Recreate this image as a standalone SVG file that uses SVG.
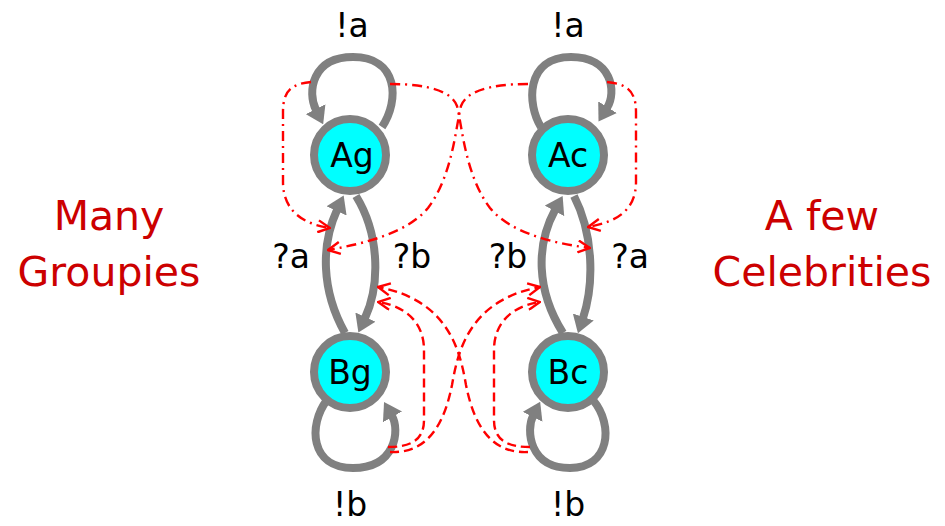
<svg xmlns="http://www.w3.org/2000/svg" width="945" height="526" viewBox="0 0 945 526">
  <style>
    .node { fill: #00FFFF; stroke: #808080; stroke-width: 8; }
    .nlabel { font-family: "DejaVu Sans", sans-serif; font-size: 33px; fill: #000; text-anchor: middle; }
    .elabel { font-family: "DejaVu Sans", sans-serif; font-size: 33px; fill: #000; text-anchor: middle; }
    .title { font-family: "DejaVu Sans", sans-serif; font-size: 41px; fill: #CC0000; text-anchor: middle; }
    .edge { fill: none; stroke: #808080; stroke-width: 8; marker-end: url(#ga); }
    .dd { fill: none; stroke: #FF0000; stroke-width: 2.4; stroke-dasharray: 10 5 2 5; marker-end: url(#ra); }
    .dash { fill: none; stroke: #FF0000; stroke-width: 2.4; stroke-dasharray: 9 5; marker-end: url(#ra); }
  </style>
  <defs>
    <marker id="ga" markerUnits="userSpaceOnUse" viewBox="0 0 17 22" refX="1" refY="11" markerWidth="17" markerHeight="22" orient="auto">
      <path d="M0,0 L17,11 L0,22 z" fill="#808080"/>
    </marker>
    <marker id="ra" markerUnits="userSpaceOnUse" viewBox="0 0 14 14" refX="13" refY="7" markerWidth="14" markerHeight="14" orient="auto">
      <path d="M1,1 L13,7 L1,13" fill="none" stroke="#FF0000" stroke-width="2.4"/>
    </marker>
  </defs>

  <g id="titles">
    <text class="title" x="109" y="230">Many</text>
    <text class="title" x="109" y="286">Groupies</text>
    <text class="title" x="822" y="230">A few</text>
    <text class="title" x="822" y="286">Celebrities</text>
  </g>

  <g id="connectors">
    <!-- self loops -->
    <path class="edge" d="M 382 127 C 400 100, 398 57, 353 57 C 312 57, 307 92, 316 110"/>
    <path class="edge" d="M 541 127 C 527 105, 525 57, 571 57 C 612 57, 617 92, 607 108"/>
    <path class="edge" d="M 327 400 C 308 425, 310 468, 353 468 C 396 468, 400 430, 392 416"/>
    <path class="edge" d="M 593 400 C 614 425, 610 468, 570 468 C 529 468, 526 430, 533 416"/>
    <!-- lens edges -->
    <path class="edge" d="M 345 333 C 321 290, 321 245, 337 210"/>
    <path class="edge" d="M 356 196 C 380 235, 380 285, 365 318"/>
    <path class="edge" d="M 563 333 C 536 290, 536 245, 555 210"/>
    <path class="edge" d="M 574 196 C 594 235, 594 285, 583 318"/>
    <!-- dash-dot (top) -->
    <path class="dd" d="M 311 82 C 292 84, 283 90, 283 112 L 283 182 C 283 210, 302 224, 330 228"/>
    <path class="dd" d="M 390 84 C 430 84, 452 92, 457 106 C 462 125, 465 175, 490 208 C 510 232, 550 243, 590 248"/>
    <path class="dd" d="M 528 84 C 488 84, 466 92, 461 106 C 456 125, 453 175, 428 208 C 408 232, 368 243, 328 250"/>
    <path class="dd" d="M 607 82 C 626 84, 636 90, 636 112 L 636 182 C 636 210, 617 222, 588 227"/>
    <!-- dashed (bottom) -->
    <path class="dash" d="M 388 447 C 408 447, 424 442, 424 420 L 424 350 C 424 322, 405 306, 378 302"/>
    <path class="dash" d="M 390 452 C 430 454, 445 420, 452 385 C 458 350, 470 300, 540 287"/>
    <path class="dash" d="M 530 447 C 510 447, 494 442, 494 420 L 494 350 C 494 322, 513 306, 540 302"/>
    <path class="dash" d="M 528 452 C 488 454, 473 420, 466 385 C 460 350, 448 300, 378 287"/>
  </g>

  <g id="edge-labels">
    <text class="elabel" x="352" y="37">!a</text>
    <text class="elabel" x="568" y="37">!a</text>
    <text class="elabel" x="350" y="516">!b</text>
    <text class="elabel" x="568" y="516">!b</text>
    <text class="elabel" x="291" y="268">?a</text>
    <text class="elabel" x="412" y="268">?b</text>
    <text class="elabel" x="508" y="268">?b</text>
    <text class="elabel" x="630" y="268">?a</text>
  </g>

  <g id="Ag">
    <circle class="node" cx="350" cy="155" r="36"/>
    <text class="nlabel" x="352" y="167">Ag</text>
  </g>
  <g id="Ac">
    <circle class="node" cx="568" cy="155" r="36"/>
    <text class="nlabel" x="568" y="167">Ac</text>
  </g>
  <g id="Bg">
    <circle class="node" cx="350" cy="372" r="36"/>
    <text class="nlabel" x="350" y="384">Bg</text>
  </g>
  <g id="Bc">
    <circle class="node" cx="568" cy="372" r="36"/>
    <text class="nlabel" x="568" y="384">Bc</text>
  </g>
</svg>
